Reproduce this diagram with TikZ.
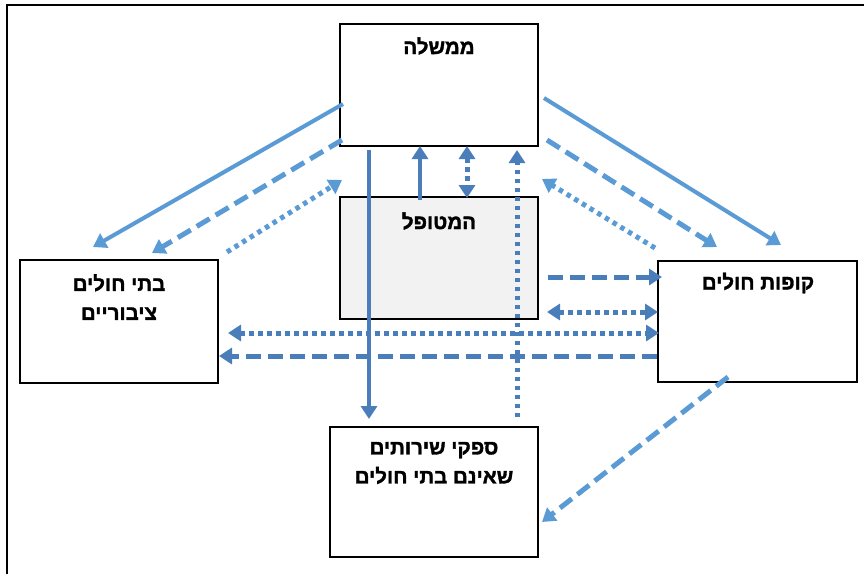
\documentclass[tikz,border=0pt]{standalone}
\usepackage{fontspec}
\setmainfont{Liberation Sans}
\newfontfamily\hebfont[Script=Hebrew, BoldFont={Liberation Sans Bold}, BoldFeatures={FakeBold=1.6}]{Liberation Sans}
\TeXXeTstate=1
\usetikzlibrary{arrows.meta}
\definecolor{lb}{HTML}{5B9BD5}
\definecolor{db}{HTML}{4A7EBB}
\definecolor{boxgray}{HTML}{F2F2F2}
\begin{document}
\begin{tikzpicture}[x=1pt,y=-1pt,
  box/.style={draw=black, line width=1.5pt, fill=white, inner sep=0pt, outer sep=0pt, anchor=north west},
  lbl/.style={font=\hebfont\bfseries\fontsize{20.5}{29}\selectfont, align=center, inner sep=0pt},
  tip/.style={-{Triangle[length=13pt,width=16pt]}},
  bitip/.style={{Triangle[length=13pt,width=16pt]}-{Triangle[length=13pt,width=16pt]}},
  solidln/.style={line width=4pt},
  dashln/.style={line width=5pt, dash pattern=on 15pt off 7pt},
  dotln/.style={line width=5pt, dash pattern=on 4.5pt off 4.5pt}
]
\useasboundingbox (0,0) rectangle (864,573);
\clip (0,0) rectangle (864,573);
\fill[white] (0,0) rectangle (864,573);
\draw[line width=2.5pt] (7,5) rectangle (900,600);

% boxes
\node[box, minimum width=198pt, minimum height=122pt] (gov) at (340,24) {};
\node[box, fill=boxgray, minimum width=198pt, minimum height=122pt] (pat) at (340,197) {};
\node[box, minimum width=198pt, minimum height=123pt] (hosp) at (20,260) {};
\node[box, minimum width=199pt, minimum height=121pt] (hmo) at (658,261) {};
\node[box, minimum width=208pt, minimum height=130pt] (prov) at (330,427) {};

% texts
\node[lbl] (govt) at (439,46) {\beginR ממשלה\endR};
\node[lbl] (patt) at (439,221) {\beginR המטופל\endR};
\node[lbl] (hospt) at (119,297) {\beginR בתי חולים\endR\\\beginR ציבוריים\endR};
\node[lbl] (hmot) at (758,283) {\beginR קופות חולים\endR};
\node[lbl] (provt) at (434,463) {\beginR ספקי שירותים\endR\\\beginR שאינם בתי חולים\endR};

% connector end points
\coordinate (l1s) at (343,104); \coordinate (l1e) at (93,247);
\coordinate (l2s) at (342,140); \coordinate (l2e) at (152,253);
\coordinate (l3s) at (227,252); \coordinate (l3e) at (342,180);
\coordinate (r1s) at (544,98);  \coordinate (r1e) at (781,245);
\coordinate (r2s) at (547,140); \coordinate (r2e) at (717,247);
\coordinate (r3s) at (655,248); \coordinate (r3e) at (542,179);
\coordinate (v1s) at (369,150); \coordinate (v1e) at (369,419);
\coordinate (v2s) at (420,200); \coordinate (v2e) at (420,146);
\coordinate (v3s) at (467,146); \coordinate (v3e) at (467,198);
\coordinate (v4s) at (517,417); \coordinate (v4e) at (517,150);
\coordinate (h1s) at (548,277); \coordinate (h1e) at (662,277);
\coordinate (h2s) at (547,312); \coordinate (h2e) at (658,312);
\coordinate (h3s) at (228,333); \coordinate (h3e) at (659,333);
\coordinate (h4s) at (657,356); \coordinate (h4e) at (219,356);
\coordinate (d1s) at (728,377); \coordinate (d1e) at (542,522);

% diagonals (light blue)
\draw[lb, solidln, tip] (l1s) -- (l1e);
\draw[lb, dashln, tip] (l2s) -- (l2e);
\draw[lb, dotln, tip] (l3s) -- (l3e);
\draw[lb, solidln, tip] (r1s) -- (r1e);
\draw[lb, dashln, tip] (r2s) -- (r2e);
\draw[lb, dotln, tip] (r3s) -- (r3e);
\draw[lb, dashln, tip] (d1s) -- (d1e);

% verticals (dark blue)
\draw[db, solidln, tip] (v1s) -- (v1e);
\draw[db, line width=4.5pt, tip] (v2s) -- (v2e);
\draw[db, dotln, bitip] (v3s) -- (v3e);
\draw[db, dotln, tip] (v4s) -- (v4e);

% horizontals (dark blue)
\draw[db, dashln, tip] (h1s) -- (h1e);
\draw[db, dotln, bitip] (h2s) -- (h2e);
\draw[db, dotln, bitip] (h3s) -- (h3e);
\draw[db, dashln, tip] (h4s) -- (h4e);
\end{tikzpicture}
\end{document}
